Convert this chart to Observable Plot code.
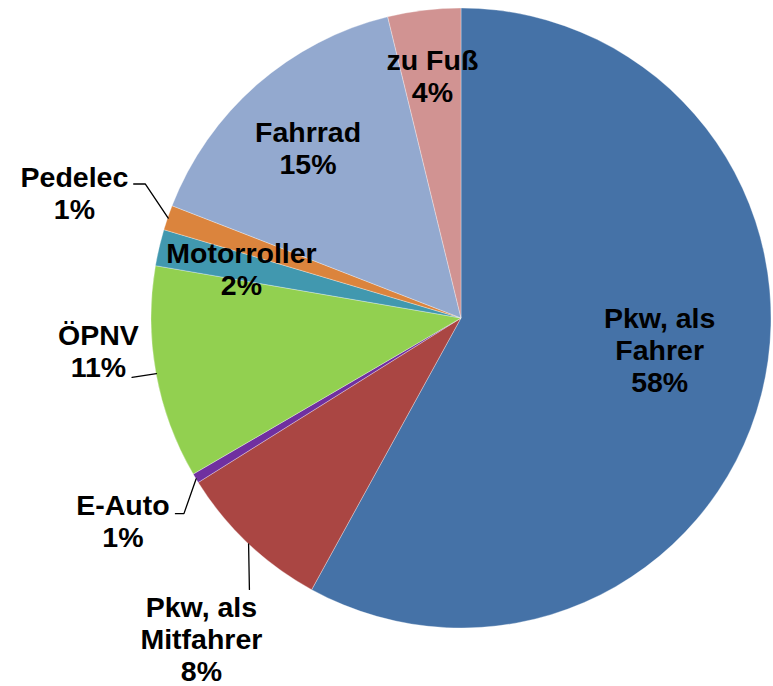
<!DOCTYPE html>
<html>
<head>
<meta charset="utf-8">
<script src="https://cdn.jsdelivr.net/npm/d3@7"></script>
<script src="https://cdn.jsdelivr.net/npm/@observablehq/plot@0.6"></script>
<style>
  html, body { margin: 0; padding: 0; background: #fff; }
</style>
</head>
<body>
<div id="chart"></div>
<script>
// ---- data ----
const categories = ["Pkw, als Fahrer", "Pkw, als Mitfahrer", "E-Auto", "ÖPNV", "Motorroller", "Pedelec", "Fahrrad", "zu Fuß"];
const nameLines  = [["Pkw, als", "Fahrer"], ["Pkw, als", "Mitfahrer"], ["E-Auto"], ["ÖPNV"], ["Motorroller"], ["Pedelec"], ["Fahrrad"], ["zu Fuß"]];
const shares     = [58.0, 8.1, 0.5, 11.1, 1.9, 1.3, 15.3, 3.8];
const colors     = ["#4572A7", "#AA4643", "#7030A0", "#92D050", "#4198AF", "#DB843D", "#93A9CF", "#D19392"];

// ---- layout (not data) ----
const W = 773, H = 686, CX = 461, CY = 318, R = 310;
// label placement: radius factor and angle offset (deg) from slice mid-angle
const placement = {
  "Pkw, als Fahrer":    {rf: 0.647, da: -5.5},
  "Pkw, als Mitfahrer": {rf: 1.330, da: -4.27, leader: [[48, -49]]},
  "E-Auto":             {rf: 1.272, da: 0.3,  leader: [[61, -7], [52.5, -7]]},
  "ÖPNV":               {rf: 1.176, da: 5.2,  leader: [[33.7, 26.7]]},
  "Motorroller":        {rf: 0.728, da: -0.3},
  "Pedelec":            {rf: 1.313, da: -0.9, leader: [[71, -8.7], [59.3, -8.7]]},
  "Fahrrad":            {rf: 0.741, da: -0.7},
  "zu Fuß":             {rf: 0.788, da: 0}
};

const table = categories.map((c, i) => ({name: c, lines: nameLines[i], share: shares[i], color: colors[i]}));
const arcs = d3.pie().sort(null).value(d => d.share).startAngle(0).endAngle(2 * Math.PI)(table);

const labels = arcs.map(a => {
  const p = placement[a.data.name];
  const mid = (a.startAngle + a.endAngle) / 2;
  const t = mid + p.da * Math.PI / 180;
  return {
    name: a.data.name,
    mid,
    x: p.rf * Math.sin(t),
    y: -p.rf * Math.cos(t),
    text: [...a.data.lines, Math.round(a.data.share) + "%"].join("\n")
  };
});

const leaders = [];
labels.forEach(l => {
  const p = placement[l.name];
  if (!p.leader) return;
  leaders.push({name: l.name, x: Math.sin(l.mid), y: -Math.cos(l.mid)});
  p.leader.forEach(([dx, dy]) => leaders.push({name: l.name, x: l.x + dx / R, y: l.y + dy / R}));
});

function slices(index, scales) {
  const cx = scales.x(0), cy = scales.y(0), r = scales.x(1) - scales.x(0);
  const arc = d3.arc().innerRadius(0).outerRadius(r);
  const g = d3.create("svg:g").attr("transform", `translate(${cx},${cy})`);
  g.selectAll("path").data(arcs).join("path")
    .attr("d", arc)
    .attr("fill", d => d.data.color)
    .attr("stroke", "#ffffff")
    .attr("stroke-opacity", 0.45)
    .attr("stroke-width", 0.7);
  return g.node();
}

const chart = Plot.plot({
  width: W,
  height: H,
  margin: 0,
  x: {domain: [-CX / R, (W - CX) / R], range: [0, W], axis: null},
  y: {domain: [-CY / R, (H - CY) / R], range: [0, H], axis: null},
  style: {fontFamily: "'Liberation Sans', Arial, sans-serif", background: "#fff"},
  marks: [
    slices,
    Plot.line(leaders, {x: "x", y: "y", z: "name", stroke: "#000", strokeWidth: 1.3}),
    Plot.text(labels, {
      x: "x", y: "y", text: "text",
      fontSize: 28.5, fontWeight: "bold", fill: "#000",
      lineHeight: 1.12, textAnchor: "middle", lineAnchor: "middle"
    })
  ]
});
document.getElementById("chart").appendChild(chart);
</script>
</body>
</html>
